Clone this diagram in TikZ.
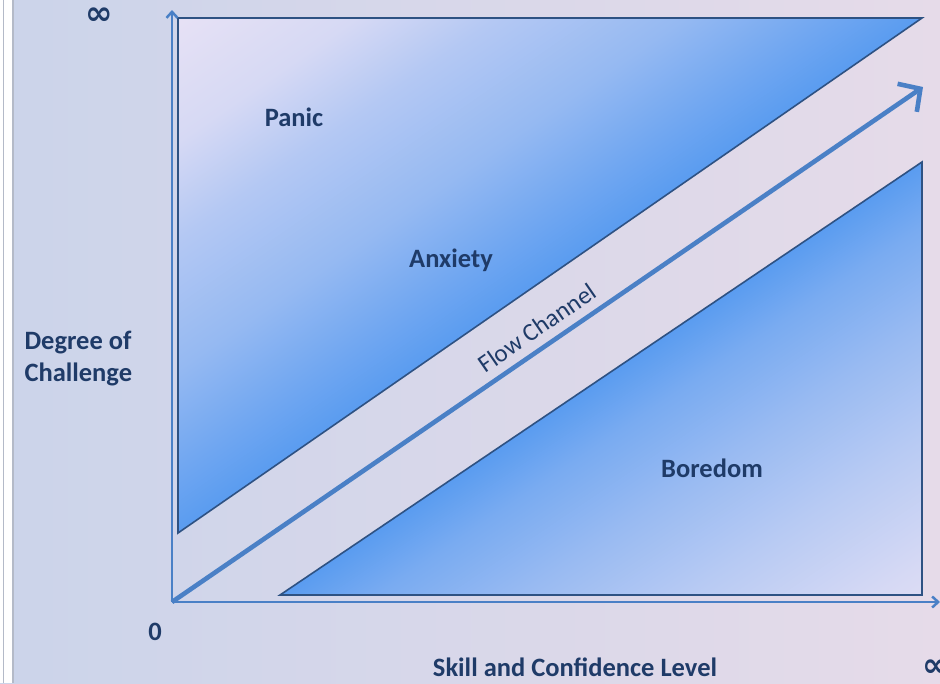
\documentclass[tikz,border=0pt]{standalone}
\usepackage{fontspec}
\setmainfont{Carlito}
\newfontfamily\symfont{DejaVu Sans}
\usepackage{xcolor}
\usepackage{tikz}
\usetikzlibrary{
arrows.meta,
positioning
}

\definecolor{labelblue}{HTML}{1F3B68}
\definecolor{edgeblue}{HTML}{2E5283}
\definecolor{axisblue}{HTML}{4A80C6}
\definecolor{zonepink}{HTML}{F5E8F5}
\definecolor{zoneblue}{HTML}{5A9CF0}
\definecolor{panicb1}{RGB}{113,167,241}
\definecolor{panicb2}{RGB}{149,185,242}
\definecolor{panicb3}{RGB}{180,200,243}
\definecolor{panicb4}{RGB}{214,217,244}
\definecolor{panicb5}{RGB}{234,227,245}
\definecolor{boredb1}{RGB}{121,171,241}
\definecolor{boredb2}{RGB}{152,186,242}
\definecolor{boredb3}{RGB}{183,202,243}
\definecolor{boredb4}{RGB}{214,217,244}
\definecolor{bgleft}{HTML}{CBD4EA}
\definecolor{bgright}{HTML}{E6DBE9}
\definecolor{stripgray}{HTML}{B4BAC8}

\pgfdeclareverticalshading{panicshade}{100bp}{
color(0bp)=(zoneblue); color(50bp)=(zoneblue);
color(54.4bp)=(panicb1); color(61.1bp)=(panicb2);
color(69.9bp)=(panicb3); color(76.5bp)=(panicb4);
color(86.5bp)=(panicb5);
color(96.8bp)=(zonepink); color(100bp)=(zonepink)}
\pgfdeclareverticalshading{boredshade}{100bp}{
color(0bp)=(zonepink); color(3.6bp)=(zonepink);
color(17.7bp)=(boredb4); color(28bp)=(boredb3);
color(37.1bp)=(boredb2); color(44.8bp)=(boredb1);
color(50bp)=(zoneblue); color(100bp)=(zoneblue)}

\begin{document}
\begin{tikzpicture}[
x=1pt,y=-1pt,
lbl/.style={
text=labelblue,
font=\bfseries\fontsize{26.5}{32}\selectfont
},
inf/.style={
text=labelblue,
font=\symfont\bfseries\fontsize{33}{36}\selectfont
},
zone/.style={draw=edgeblue,line width=1.6pt},
axis/.style={draw=axisblue,line width=2.5pt,-{Straight Barb[length=6pt,width=11pt]}},
flow/.style={draw=axisblue,line width=4.6pt,-{Straight Barb[length=16pt,width=34pt]}}
]

\useasboundingbox (0,0) rectangle (940,683);
\fill[left color=bgleft,right color=bgright] (0,0) rectangle (940,683);
\fill[white] (0,0) rectangle (14,683);
\draw[stripgray,line width=1.2pt] (3.5,0) -- (3.5,683);
\draw[stripgray,line width=1.2pt] (13,0) -- (13,683);

\shade[zone,shading=panicshade,shading angle=34.7]
(178,18) -- (922,18) -- (178,533) -- cycle;
\shade[zone,shading=boredshade,shading angle=34]
(280,595) -- (922,595) -- (922,162) -- cycle;

\coordinate (origin) at (172,602);
\coordinate (ytop) at (172,10);
\coordinate (xend) at (940,602);
\coordinate (flowend) at (923,87);

\draw[axis] (origin) -- (ytop);
\draw[axis] (origin) -- (xend);
\draw[flow] (origin) -- (flowend);

\node[lbl] (panic) at (294,117) {Panic};
\node[lbl] (anxiety) at (451,260) {Anxiety};
\node[lbl] (boredom) at (712,468) {Boredom};
\node[text=labelblue,font=\fontsize{25}{30}\selectfont,rotate=34.6] (channel) at (537,328) {Flow Channel};
\node[lbl,align=left,anchor=west] (ylabel) at (21,359) {Degree of\\Challenge};
\node[lbl] (xlabel) at (575,667) {Skill and Confidence Level};
\node[lbl] (zero) at (155,632) {0};
\node[inf] (yinf) at (99,16) {∞};
\node[inf] (xinf) at (936,668) {∞};

\end{tikzpicture}
\end{document}
